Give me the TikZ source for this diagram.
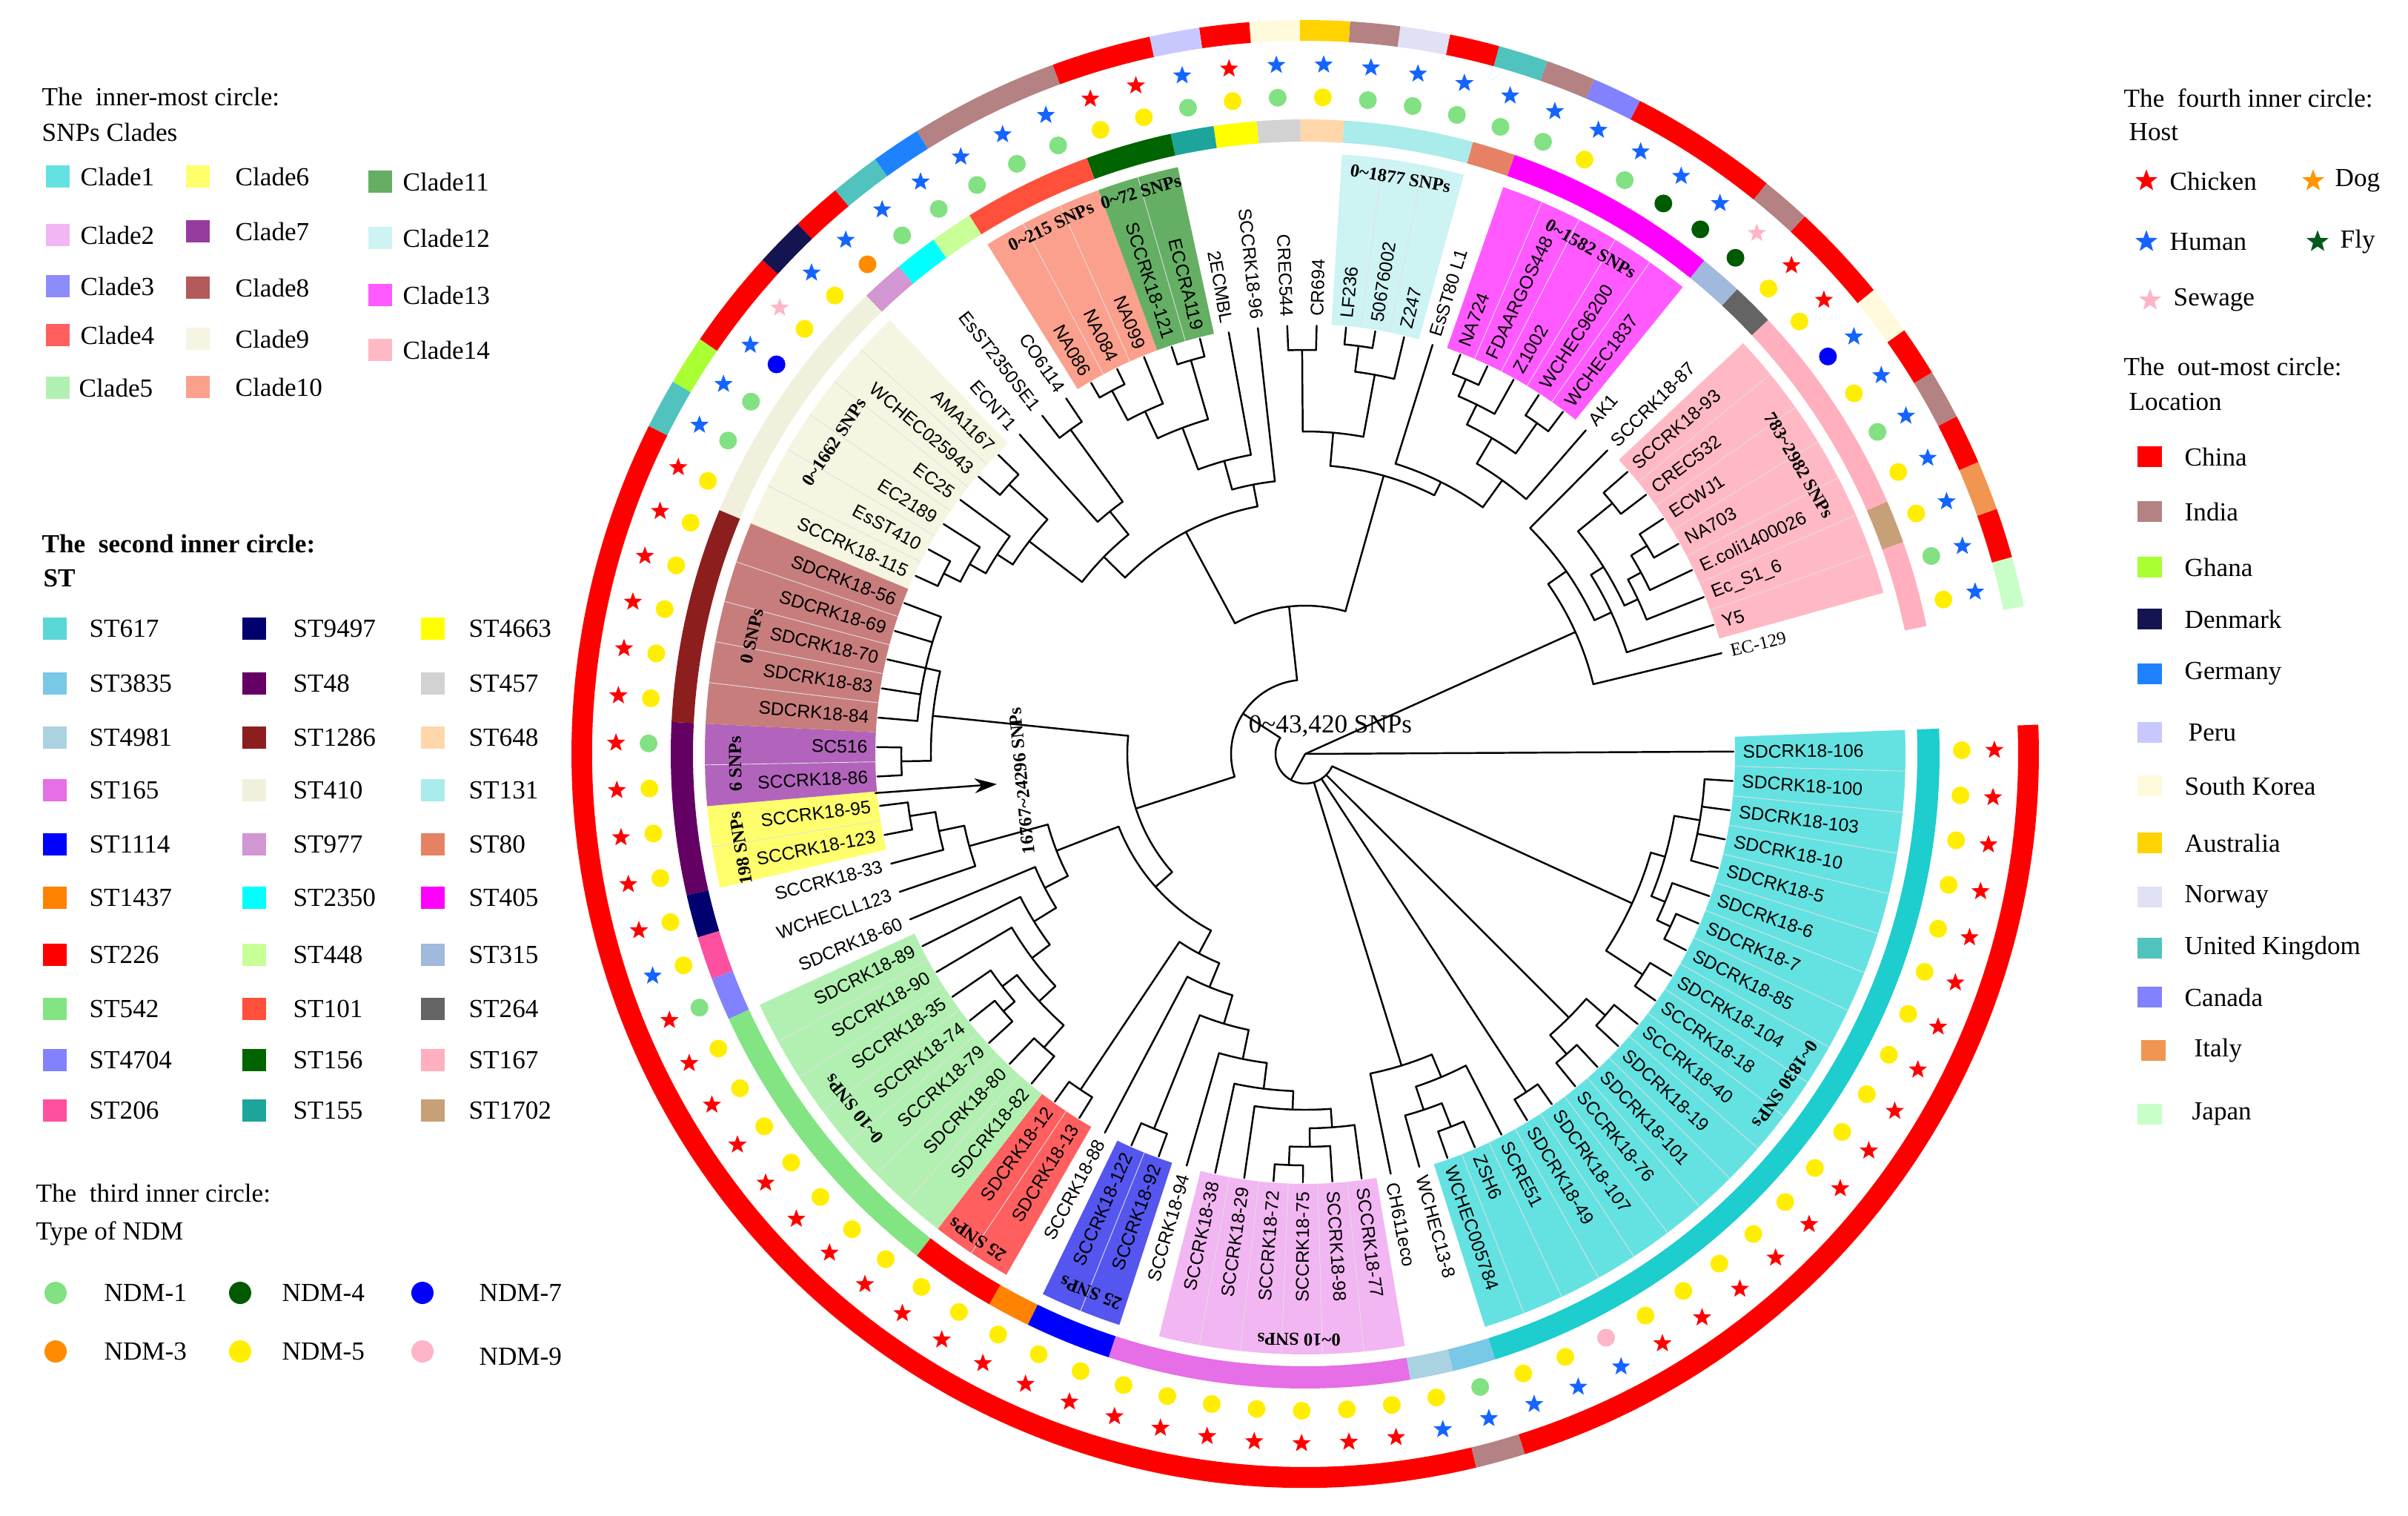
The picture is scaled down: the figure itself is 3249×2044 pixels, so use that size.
\documentclass[tikz,border=0pt]{standalone}
\usepackage{fontspec}
\setmainfont{Liberation Serif}
\setsansfont{Liberation Sans}
\usetikzlibrary{shapes.geometric,arrows.meta}
% clade colours
\definecolor{cl1}{RGB}{100,226,226}
\definecolor{cl2}{RGB}{242,182,242}
\definecolor{cl3w}{RGB}{85,85,240}
\definecolor{cl3}{RGB}{140,140,250}
\definecolor{cl4}{RGB}{255,95,95}
\definecolor{cl5}{RGB}{178,240,178}
\definecolor{cl6}{RGB}{255,255,110}
\definecolor{cl7w}{RGB}{178,100,188}
\definecolor{cl7}{RGB}{150,60,160}
\definecolor{cl8w}{RGB}{200,125,125}
\definecolor{cl8}{RGB}{180,90,90}
\definecolor{cl9}{RGB}{245,245,226}
\definecolor{cl10}{RGB}{250,160,140}
\definecolor{cl11}{RGB}{100,175,100}
\definecolor{cl12}{RGB}{205,243,243}
\definecolor{cl13}{RGB}{255,90,255}
\definecolor{cl14}{RGB}{255,185,196}
% ST colours
\definecolor{st617}{RGB}{90,215,215}
\definecolor{st617r}{RGB}{30,205,205}
\definecolor{st3835}{RGB}{120,200,230}
\definecolor{st4981}{RGB}{170,210,225}
\definecolor{st165}{RGB}{230,110,230}
\definecolor{st1114}{RGB}{0,0,255}
\definecolor{st1437}{RGB}{255,130,0}
\definecolor{st226}{RGB}{255,0,0}
\definecolor{st542}{RGB}{130,228,130}
\definecolor{st4704}{RGB}{130,130,255}
\definecolor{st206}{RGB}{255,80,160}
\definecolor{st9497}{RGB}{0,0,110}
\definecolor{st48}{RGB}{100,0,100}
\definecolor{st1286}{RGB}{140,30,30}
\definecolor{st410}{RGB}{240,240,220}
\definecolor{st977}{RGB}{210,150,210}
\definecolor{st2350}{RGB}{0,255,255}
\definecolor{st448}{RGB}{200,255,150}
\definecolor{st101}{RGB}{255,80,60}
\definecolor{st156}{RGB}{0,100,0}
\definecolor{st155}{RGB}{30,165,155}
\definecolor{st4663}{RGB}{255,255,0}
\definecolor{st457}{RGB}{210,210,210}
\definecolor{st648}{RGB}{255,215,170}
\definecolor{st131}{RGB}{170,235,235}
\definecolor{st80}{RGB}{230,130,100}
\definecolor{st405}{RGB}{255,0,255}
\definecolor{st315}{RGB}{160,185,220}
\definecolor{st264}{RGB}{100,100,100}
\definecolor{st167}{RGB}{255,175,190}
\definecolor{st1702}{RGB}{200,160,120}
% locations
\definecolor{lChina}{RGB}{255,0,0}
\definecolor{lIndia}{RGB}{180,130,130}
\definecolor{lGhana}{RGB}{170,255,50}
\definecolor{lDenmark}{RGB}{20,20,80}
\definecolor{lGermany}{RGB}{30,130,255}
\definecolor{lPeru}{RGB}{200,200,255}
\definecolor{lKorea}{RGB}{255,250,220}
\definecolor{lAustralia}{RGB}{255,210,0}
\definecolor{lNorway}{RGB}{225,225,245}
\definecolor{lUK}{RGB}{80,195,190}
\definecolor{lCanada}{RGB}{130,130,255}
\definecolor{lItaly}{RGB}{240,150,80}
\definecolor{lJapan}{RGB}{200,255,200}
% NDM
\definecolor{n1}{RGB}{130,225,130}
\definecolor{n3}{RGB}{255,140,0}
\definecolor{n4}{RGB}{0,90,0}
\definecolor{n5}{RGB}{255,238,0}
\definecolor{n7}{RGB}{0,0,255}
\definecolor{n9}{RGB}{255,180,200}
% hosts
\definecolor{hCh}{RGB}{255,0,0}
\definecolor{hDog}{RGB}{255,150,0}
\definecolor{hHu}{RGB}{20,100,255}
\definecolor{hFly}{RGB}{0,90,30}
\definecolor{hSew}{RGB}{255,180,200}

\newcommand\Aang[1]{13.6+(#1-1)*3.94}
\newcommand\Rad[3]{\draw[br] ({\Aang{#1}}:#2) -- ({\Aang{#1}}:#3);}
\newcommand\Arc[3]{\draw[br] ({\Aang{#2}}:#1) arc[start angle={\Aang{#2}}, end angle={\Aang{#3}}, radius=#1];}
\newcommand\Sec[5]{\fill[#5] ({\Aang{#3}-1.97}:#1) arc[start angle={\Aang{#3}-1.97}, end angle={\Aang{#4}+1.97}, radius=#1] -- ({\Aang{#4}+1.97}:#2) arc[start angle={\Aang{#4}+1.97}, end angle={\Aang{#3}-1.97}, radius=#2] -- cycle;}
\newcommand\Lf[2]{%
  \pgfmathsetmacro\lfang{13.6+(#1-1)*3.94}%
  \pgfmathtruncatemacro\lfflip{and(\lfang>90,\lfang<270)}%
  \ifnum\lfflip=1
    \node[lab,anchor=east,rotate=\lfang-180] (l#1) at (\lfang:590) {#2};%
  \else
    \node[lab,anchor=west,rotate=\lfang] (l#1) at (\lfang:590) {#2};%
  \fi}
\newcommand\Snp[4]{\node[snp,rotate=#2-90] (#1) at (#2:#3) {#4};}
\newcommand\Sw[6]{\fill[#1] ({#2-16},{#3-15}) rectangle ({#2+16},{#3+15}); \node[leg] (#4) at (#5,#3) {#6};}
\newcommand\Lw[6]{\fill[#1] (#2,{#3-14}) rectangle ({#2+33},{#3+14}); \node[leg] (#4) at (#5,#3) {#6};}

\begin{document}
\begin{tikzpicture}[x=0.01cm,y=0.01cm,
  br/.style={line width=0.7pt, black, line cap=round, line join=round},
  lab/.style={font=\sffamily\fontsize{7}{8}\selectfont, inner sep=0pt},
  snp/.style={font=\rmfamily\bfseries\fontsize{7}{8}\selectfont, inner sep=0pt},
  leg/.style={font=\rmfamily\fontsize{10}{12}\selectfont, anchor=west, inner sep=0pt},
  hstar/.style={star, star points=5, star point ratio=2.4, inner sep=0pt, minimum size=0.26cm, draw=none},
  lstar/.style={hstar, minimum size=0.31cm},
  sep/.style={line width=0.25pt, black!12}]

\useasboundingbox (-1761,-1027) rectangle (1488,1017);
\fill[white] (-1761,-1027) rectangle (1488,1017);

% ---------- clade wedges ----------
\foreach \a/\b/\c in {71/89/cl1, 63/68/cl2, 60/61/cl3w, 57/58/cl4, 50/56/cl5, 45/46/cl6, 43/44/cl7w, 38/42/cl8w, 32/37/cl9, 26/28/cl10, 24/25/cl11, 17/19/cl12, 11/15/cl13, 2/8/cl14}
  {\Sec{580}{810}{\a}{\b}{\c}}
\foreach \a/\b in {71/89, 63/68, 60/61, 57/58, 50/56, 45/46, 43/44, 38/42, 32/37, 26/28, 24/25, 17/19, 11/15, 2/8}
  {\pgfmathtruncatemacro\lm{\b-1}
   \foreach \i in {\a,...,\lm}{\draw[sep] ({\Aang{\i}+1.97}:580) -- ({\Aang{\i}+1.97}:810);}}

% ---------- ST ring ----------
\foreach \a/\b/\c in {1/2/st167, 3/3/st1702, 4/8/st167, 9/9/st264, 10/10/st315, 11/15/st405, 16/16/st80, 17/19/st131, 20/20/st648, 21/21/st457, 22/22/st4663, 23/23/st155, 24/25/st156, 26/28/st101, 29/29/st448, 30/30/st2350, 31/31/st977, 32/37/st410, 38/42/st1286, 43/46/st48, 47/47/st9497, 48/48/st206, 49/49/st4704, 50/56/st542, 57/58/st226, 59/59/st1437, 60/61/st1114, 62/68/st165, 69/69/st4981, 70/70/st3835, 71/89/st617r}
  {\Sec{826}{856}{\a}{\b}{\c}}

% ---------- location ring ----------
\foreach \a/\b/\c in {1/1/lJapan, 2/2/lChina, 3/3/lItaly, 4/4/lChina, 5/5/lIndia, 6/6/lChina, 7/7/lKorea, 8/9/lChina, 10/10/lIndia, 11/13/lChina, 14/14/lCanada, 15/15/lIndia, 16/16/lUK, 17/17/lChina, 18/18/lNorway, 19/19/lIndia, 20/20/lAustralia, 21/21/lKorea, 22/22/lChina, 23/23/lPeru, 24/25/lChina, 26/28/lIndia, 29/29/lGermany, 30/30/lUK, 31/31/lChina, 32/32/lDenmark, 33/34/lChina, 35/35/lGhana, 36/36/lUK, 37/69/lChina, 70/70/lIndia, 71/89/lChina}
  {\Sec{962}{990}{\a}{\b}{\c}}

% ---------- NDM dots ----------
\foreach \i in {1,3,4,6,8,9,14,20,22,24,25,32,33,37,38,39,40,41,42,44,45,46,47,48,50,51,52,53,54,55,56,57,58,59,60,61,62,63,64,65,66,67,68,69,71,72,74,75,76,77,78,79,80,81,82,83,84,85,86,87,88,89}{\fill[n5] ({\Aang{\i}}:886) circle[radius=12];}
\foreach \i in {2,5,13,15,16,17,18,19,21,23,26,27,28,29,30,35,36,43,49,70}{\fill[n1] ({\Aang{\i}}:886) circle[radius=12];}
\foreach \i in {7,34}{\fill[n7] ({\Aang{\i}}:886) circle[radius=12];}
\foreach \i in {10,11,12}{\fill[n4] ({\Aang{\i}}:886) circle[radius=12];}
\foreach \i in {31}{\fill[n3] ({\Aang{\i}}:886) circle[radius=12];}
\foreach \i in {73}{\fill[n9] ({\Aang{\i}}:886) circle[radius=12];}

% ---------- host stars ----------
\foreach \i in {1,2,3,4,5,6,7,11,12,13,14,15,16,17,18,19,20,21,23,26,27,28,29,30,31,32,34,35,36,48,69,70,71,72,73}{\node[hstar,fill=hHu] (hb\i) at ({\Aang{\i}}:930) {};}
\foreach \i in {8,9,22,24,25,37,38,39,40,41,42,43,44,45,46,47,49,50,51,52,53,54,55,56,57,58,59,60,61,62,63,64,65,66,67,68,74,75,76,77,78,79,80,81,82,83,84,85,86,87,88,89}{\node[hstar,fill=hCh] (hr\i) at ({\Aang{\i}}:930) {};}
\foreach \i in {10,33}{\node[hstar,fill=hSew] (hp\i) at ({\Aang{\i}}:930) {};}

% ---------- tree ----------
% group VII
\Arc{535}{7}{8}\Rad{7}{535}{578}\Rad{8}{535}{578}
\Arc{540}{5}{6}\Rad{5}{540}{578}\Rad{6}{540}{578}
\Arc{515}{4}{5.5}\Rad{4}{515}{578}\Rad{5.5}{515}{540}
\Arc{495}{3}{4.75}\Rad{3}{495}{578}\Rad{4.75}{495}{515}
\Arc{475}{3.875}{7.5}\Rad{3.875}{475}{495}\Rad{7.5}{475}{535}
\Arc{455}{2}{5.6875}\Rad{2}{455}{578}\Rad{5.6875}{455}{475}
\Arc{430}{3.84375}{9}\Rad{3.84375}{430}{455}\Rad{9}{430}{578}
\Arc{400}{1}{6.421875}\Rad{1}{400}{578}\Rad{6.421875}{400}{430}
% group VI
\Arc{550}{14}{15}\Rad{14}{550}{578}\Rad{15}{550}{578}
\Arc{525}{13}{14.5}\Rad{13}{525}{578}\Rad{14.5}{525}{550}
\Arc{545}{11}{12}\Rad{11}{545}{578}\Rad{12}{545}{578}
\Arc{495}{11.5}{13.75}\Rad{11.5}{495}{545}\Rad{13.75}{495}{525}
\Arc{455}{10}{12.625}\Rad{10}{455}{578}\Rad{12.625}{455}{495}
\Arc{410}{11.3125}{16}\Rad{11.3125}{410}{455}\Rad{16}{410}{578}
\Arc{555}{18}{19}\Rad{18}{555}{578}\Rad{19}{555}{578}
\Arc{520}{17}{18.5}\Rad{17}{520}{578}\Rad{18.5}{520}{555}
\Arc{545}{20}{21}\Rad{20}{545}{578}\Rad{21}{545}{578}
\Arc{435}{17.75}{20.5}\Rad{17.75}{435}{520}\Rad{20.5}{435}{545}
\Arc{390}{13.65625}{19.125}\Rad{13.65625}{390}{410}\Rad{19.125}{390}{435}
% group V
\Arc{555}{27}{28}\Rad{27}{555}{578}\Rad{28}{555}{578}
\Arc{510}{26}{27.5}\Rad{26}{510}{578}\Rad{27.5}{510}{555}
\Arc{553}{24}{25}\Rad{24}{553}{578}\Rad{25}{553}{578}
\Arc{470}{24.5}{26.75}\Rad{24.5}{470}{553}\Rad{26.75}{470}{510}
\Arc{410}{23}{25.625}\Rad{23}{410}{578}\Rad{25.625}{410}{470}
\Arc{370}{22}{24.3125}\Rad{22}{370}{578}\Rad{24.3125}{370}{410}
% group IV
\Arc{540}{29}{30}\Rad{29}{540}{578}\Rad{30}{540}{578}
\Arc{420}{29.5}{31}\Rad{29.5}{420}{540}\Rad{31}{420}{578}
\Arc{540}{32}{33}\Rad{32}{540}{578}\Rad{33}{540}{578}
\Arc{545}{36}{37}\Rad{36}{545}{578}\Rad{37}{545}{578}
\Arc{520}{35}{36.5}\Rad{35}{520}{578}\Rad{36.5}{520}{545}
\Arc{495}{34}{35.75}\Rad{34}{495}{578}\Rad{35.75}{495}{520}
\Arc{470}{32.5}{34.875}\Rad{32.5}{470}{540}\Rad{34.875}{470}{495}
\Arc{380}{30.25}{33.6875}\Rad{30.25}{380}{420}\Rad{33.6875}{380}{470}
\Arc{340}{23.15625}{31.96875}\Rad{23.15625}{340}{370}\Rad{31.96875}{340}{380}
\Arc{200}{16.390625}{27.5625}\Rad{16.390625}{200}{390}\Rad{27.5625}{200}{340}
% group III
\Arc{525}{38}{42}\foreach \i in {38,...,42}{\Rad{\i}{525}{578}}
\Arc{545}{43}{44}\Rad{43}{545}{578}\Rad{44}{545}{578}
\Arc{505}{40}{43.5}\Rad{40}{505}{525}\Rad{43.5}{505}{545}
% group II
\Arc{540}{45}{46}\Rad{45}{540}{578}\Rad{46}{540}{578}
\Arc{505}{45.5}{47}\Rad{45.5}{505}{540}\Rad{47}{505}{578}
\Arc{470}{46.25}{48}\Rad{46.25}{470}{505}\Rad{48}{470}{578}
\Arc{535}{53}{54}\Rad{53}{535}{578}\Rad{54}{535}{578}
\Arc{515}{52}{53.5}\Rad{52}{515}{578}\Rad{53.5}{515}{535}
\Arc{530}{55}{56}\Rad{55}{530}{578}\Rad{56}{530}{578}
\Arc{490}{52.75}{55.5}\Rad{52.75}{490}{515}\Rad{55.5}{490}{530}
\Arc{460}{51}{54.125}\Rad{51}{460}{578}\Rad{54.125}{460}{490}
\Arc{430}{50}{52.5625}\Rad{50}{430}{578}\Rad{52.5625}{430}{460}
\Arc{395}{49}{51.28125}\Rad{49}{395}{578}\Rad{51.28125}{395}{430}
\Arc{360}{47.125}{50.140625}\Rad{47.125}{360}{470}\Rad{50.140625}{360}{395}
\Arc{545}{57}{58}\Rad{57}{545}{578}\Rad{58}{545}{578}
\Arc{545}{60}{61}\Rad{60}{545}{578}\Rad{61}{545}{578}
\Arc{555}{65}{66}\Rad{65}{555}{578}\Rad{66}{555}{578}
\Arc{530}{65.5}{67}\Rad{65.5}{530}{555}\Rad{67}{530}{578}
\Arc{505}{66.25}{68}\Rad{66.25}{505}{530}\Rad{68}{505}{578}
\Arc{480}{64}{67.125}\Rad{64}{480}{578}\Rad{67.125}{480}{505}
\Arc{455}{63}{65.5625}\Rad{63}{455}{578}\Rad{65.5625}{455}{480}
\Arc{420}{62}{64.28125}\Rad{62}{420}{578}\Rad{64.28125}{420}{455}
\Arc{380}{60.5}{63.140625}\Rad{60.5}{380}{545}\Rad{63.140625}{380}{420}
\Arc{340}{59}{61.8203}\Rad{59}{340}{578}\Rad{61.8203}{340}{380}
\Arc{305}{57.5}{60.41}\Rad{57.5}{305}{545}\Rad{60.41}{305}{340}
\Arc{270}{48.6328}{58.955}\Rad{48.6328}{270}{360}\Rad{58.955}{270}{305}
\Arc{240}{41.75}{53.794}\Rad{41.75}{240}{505}\Rad{53.794}{240}{270}
\Arc{100}{21.9766}{47.772}\Rad{21.9766}{100}{200}\Rad{47.772}{100}{240}
% group I
\Arc{540}{71}{72}\Rad{71}{540}{578}\Rad{72}{540}{578}
\Arc{506}{70}{71.5}\Rad{70}{506}{578}\Rad{71.5}{506}{540}
\Arc{473}{70.75}{73}\Rad{70.75}{473}{506}\Rad{73}{473}{578}
\Arc{440}{69}{71.875}\Rad{69}{440}{578}\Rad{71.875}{440}{473}
\Arc{545}{74}{75}\Rad{74}{545}{578}\Rad{75}{545}{578}
\Arc{537}{76}{77}\Rad{76}{537}{578}\Rad{77}{537}{578}
\Arc{537}{78}{79}\Rad{78}{537}{578}\Rad{79}{537}{578}
\Arc{503}{76.5}{78.5}\Rad{76.5}{503}{537}\Rad{78.5}{503}{537}
\Arc{544}{80}{81}\Rad{80}{544}{578}\Rad{81}{544}{578}
\Arc{545}{82}{83}\Rad{82}{545}{578}\Rad{83}{545}{578}
\Arc{525}{82.5}{84}\Rad{82.5}{525}{545}\Rad{84}{525}{578}
\Arc{540}{85}{88}\foreach \i in {85,...,88}{\Rad{\i}{540}{578}}
\Arc{505}{83.25}{86.5}\Rad{83.25}{505}{525}\Rad{86.5}{505}{540}
\Arc{485}{80.5}{84.875}\Rad{80.5}{485}{544}\Rad{84.875}{485}{505}
% centre
\Arc{40}{34.874}{82.6875}
\Rad{34.874}{40}{100}\Rad{70.4375}{40}{440}\Rad{74.5}{40}{545}\Rad{77.5}{40}{503}\Rad{82.6875}{40}{485}
\Rad{3.7109}{0}{400}\Rad{58.78}{0}{40}\Rad{89}{0}{578}

% ---------- leaf labels ----------
\Lf{1}{\rmfamily EC-129}
\Lf{2}{Y5}
\Lf{3}{Ec\_S1\_6}
\Lf{4}{E.coli1400026}
\Lf{5}{NA703}
\Lf{6}{ECWJ1}
\Lf{7}{CREC532}
\Lf{8}{SCCRK18-93}
\Lf{9}{SCCRK18-87}
\Lf{10}{AK1}
\Lf{11}{WCHEC1837}
\Lf{12}{WCHEC96200}
\Lf{13}{Z1002}
\Lf{14}{FDAARGOS448}
\Lf{15}{NA724}
\Lf{16}{EsST80 L1}
\Lf{17}{Z247}
\Lf{18}{50676002}
\Lf{19}{LF236}
\Lf{20}{CR694}
\Lf{21}{CREC544}
\Lf{22}{SCCRK18-96}
\Lf{23}{2ECMBL}
\Lf{24}{ECCRA119}
\Lf{25}{SCCRK18-121}
\Lf{26}{NA099}
\Lf{27}{NA084}
\Lf{28}{NA086}
\Lf{29}{CO6114}
\Lf{30}{EsST2350SE1}
\Lf{31}{ECNT1}
\Lf{32}{AMA1167}
\Lf{33}{WCHEC025943}
\Lf{34}{EC25}
\Lf{35}{EC2189}
\Lf{36}{EsST410}
\Lf{37}{SCCRK18-115}
\Lf{38}{SDCRK18-56}
\Lf{39}{SDCRK18-69}
\Lf{40}{SDCRK18-70}
\Lf{41}{SDCRK18-83}
\Lf{42}{SDCRK18-84}
\Lf{43}{SC516}
\Lf{44}{SCCRK18-86}
\Lf{45}{SCCRK18-95}
\Lf{46}{SCCRK18-123}
\Lf{47}{SCCRK18-33}
\Lf{48}{WCHECLL123}
\Lf{49}{SDCRK18-60}
\Lf{50}{SDCRK18-89}
\Lf{51}{SCCRK18-90}
\Lf{52}{SCCRK18-35}
\Lf{53}{SCCRK18-74}
\Lf{54}{SCCRK18-79}
\Lf{55}{SDCRK18-80}
\Lf{56}{SDCRK18-82}
\Lf{57}{SDCRK18-12}
\Lf{58}{SDCRK18-13}
\Lf{59}{SCCRK18-88}
\Lf{60}{SCCRK18-122}
\Lf{61}{SCCRK18-92}
\Lf{62}{SCCRK18-94}
\Lf{63}{SCCRK18-38}
\Lf{64}{SCCRK18-29}
\Lf{65}{SCCRK18-72}
\Lf{66}{SCCRK18-75}
\Lf{67}{SCCRK18-98}
\Lf{68}{SCCRK18-77}
\Lf{69}{CH611eco}
\Lf{70}{WCHEC13-8}
\Lf{71}{WCHEC005784}
\Lf{72}{ZSH6}
\Lf{73}{SCRE51}
\Lf{74}{SDCRK18-49}
\Lf{75}{SDCRK18-107}
\Lf{76}{SCCRK18-76}
\Lf{77}{SDCRK18-101}
\Lf{78}{SDCRK18-19}
\Lf{79}{SCCRK18-40}
\Lf{80}{SCCRK18-18}
\Lf{81}{SDCRK18-104}
\Lf{82}{SDCRK18-85}
\Lf{83}{SDCRK18-7}
\Lf{84}{SDCRK18-6}
\Lf{85}{SDCRK18-5}
\Lf{86}{SDCRK18-10}
\Lf{87}{SDCRK18-103}
\Lf{88}{SDCRK18-100}
\Lf{89}{SDCRK18-106}

% ---------- SNP labels ----------
\Snp{s14}{30.3}{772}{783\textasciitilde2982 SNPs}
\Snp{s13}{60.5}{783}{0\textasciitilde1582 SNPs}
\Snp{s12}{80.6}{787}{0\textasciitilde1877 SNPs}
\Snp{s11}{106.3}{790}{0\textasciitilde72 SNPs}
\Snp{s10}{115.7}{790}{0\textasciitilde215 SNPs}
\Snp{s9}{146.5}{762}{0\textasciitilde1662 SNPs}
\Snp{s8}{168}{763}{0 SNPs}
\Snp{s7}{181}{769}{6 SNPs}
\Snp{s6}{189.5}{772}{198 SNPs}
\Snp{s5}{218.2}{774}{0\textasciitilde10 SNPs}
\Snp{s4}{236}{790}{25 SNPs}
\Snp{s3}{248.3}{782}{25 SNPs}
\Snp{s2}{269.4}{790}{0\textasciitilde10 SNPs}
\Snp{s1}{325.5}{786}{0\textasciitilde1830 SNPs}
\node[snp,rotate=95.4] (smid) at (185.4:384) {16767\textasciitilde24296 SNPs};
\coordinate (arrS) at (185.2:583);
\coordinate (arrE) at (185.6:418);
\draw[line width=0.7pt,-{Stealth[length=0.3cm,width=0.2cm]}] (arrS) -- (arrE);
\node[font=\rmfamily\fontsize{10}{12}\selectfont, inner sep=0pt] (total) at (34,38) {0\textasciitilde43,420 SNPs};

% ---------- legends ----------
\begin{scope}[shift={(-1761,1017)},yscale=-1]
\node[leg] (t1a) at (56,131) {The\ \ inner-most circle:};
\node[leg] (t1b) at (56,178) {SNPs Clades};
\Sw{cl1}{78}{238}{c1}{108}{Clade1}
\Sw{cl2}{78}{317}{c2}{108}{Clade2}
\Sw{cl3}{78}{386}{c3}{108}{Clade3}
\Sw{cl4}{78}{452}{c4}{108}{Clade4}
\Sw{cl5}{78}{523}{c5}{106}{Clade5}
\Sw{cl6}{267}{238}{c6}{317}{Clade6}
\Sw{cl7}{267}{312}{c7}{317}{Clade7}
\Sw{cl8}{267}{388}{c8}{317}{Clade8}
\Sw{cl9}{267}{457}{c9}{317}{Clade9}
\Sw{cl10}{267}{522}{c10}{317}{Clade10}
\Sw{cl11}{513}{245}{c11}{543}{Clade11}
\Sw{cl12}{513}{321}{c12}{543}{Clade12}
\Sw{cl13}{513}{398}{c13}{543}{Clade13}
\Sw{cl14}{513}{472}{c14}{543}{Clade14}

\node[leg,font=\rmfamily\bfseries\fontsize{10}{12}\selectfont] (t2a) at (56,734) {The\ \ second inner circle:};
\node[leg,font=\rmfamily\bfseries\fontsize{10}{12}\selectfont] (t2b) at (58,780) {ST};
\Sw{st617}{74}{848}{e1}{120}{ST617}
\Sw{st3835}{74}{922}{e2}{120}{ST3835}
\Sw{st4981}{74}{995}{e3}{120}{ST4981}
\Sw{st165}{74}{1066}{e4}{120}{ST165}
\Sw{st1114}{74}{1139}{e5}{120}{ST1114}
\Sw{st1437}{74}{1211}{e6}{120}{ST1437}
\Sw{st226}{74}{1288}{e7}{120}{ST226}
\Sw{st542}{74}{1361}{e8}{120}{ST542}
\Sw{st4704}{74}{1430}{e9}{120}{ST4704}
\Sw{st206}{74}{1498}{e10}{120}{ST206}
\Sw{st9497}{343}{848}{f1}{395}{ST9497}
\Sw{st48}{343}{922}{f2}{395}{ST48}
\Sw{st1286}{343}{995}{f3}{395}{ST1286}
\Sw{st410}{343}{1066}{f4}{395}{ST410}
\Sw{st977}{343}{1139}{f5}{395}{ST977}
\Sw{st2350}{343}{1211}{f6}{395}{ST2350}
\Sw{st448}{343}{1288}{f7}{395}{ST448}
\Sw{st101}{343}{1361}{f8}{395}{ST101}
\Sw{st156}{343}{1430}{f9}{395}{ST156}
\Sw{st155}{343}{1498}{f10}{395}{ST155}
\Sw{st4663}{584}{848}{g1}{632}{ST4663}
\Sw{st457}{584}{922}{g2}{632}{ST457}
\Sw{st648}{584}{995}{g3}{632}{ST648}
\Sw{st131}{584}{1066}{g4}{632}{ST131}
\Sw{st80}{584}{1139}{g5}{632}{ST80}
\Sw{st405}{584}{1211}{g6}{632}{ST405}
\Sw{st315}{584}{1288}{g7}{632}{ST315}
\Sw{st264}{584}{1361}{g8}{632}{ST264}
\Sw{st167}{584}{1430}{g9}{632}{ST167}
\Sw{st1702}{584}{1498}{g10}{632}{ST1702}

\node[leg] (t3a) at (48,1610) {The\ \ third inner circle:};
\node[leg] (t3b) at (48,1664) {Type of NDM};
\fill[n1] (75,1744) circle[radius=15]; \node[leg] (d1) at (140,1744) {NDM-1};
\fill[n4] (324,1744) circle[radius=15]; \node[leg] (d4) at (380,1744) {NDM-4};
\fill[n7] (570,1744) circle[radius=15]; \node[leg] (d7) at (646,1744) {NDM-7};
\fill[n3] (75,1823) circle[radius=15]; \node[leg] (d3) at (140,1823) {NDM-3};
\fill[n5] (324,1823) circle[radius=15]; \node[leg] (d5) at (380,1823) {NDM-5};
\fill[n9] (570,1823) circle[radius=15]; \node[leg] (d9) at (646,1830) {NDM-9};

\node[leg] (t4a) at (2865,132) {The\ \ fourth inner circle:};
\node[leg] (t4b) at (2872,178) {Host};
\node[lstar,fill=hCh] (k1) at (2896,244) {}; \node[leg] (k1t) at (2927,244) {Chicken};
\node[lstar,fill=hDog] (k2) at (3121,244) {}; \node[leg] (k2t) at (3150,244) {Dog};
\node[lstar,fill=hHu] (k3) at (2896,326) {}; \node[leg] (k3t) at (2927,326) {Human};
\node[lstar,fill=hFly] (k4) at (3127,326) {}; \node[leg] (k4t) at (3157,326) {Fly};
\node[lstar,fill=hSew] (k5) at (2901,405) {}; \node[leg] (k5t) at (2932,405) {Sewage};

\node[leg] (t5a) at (2865,495) {The\ \ out-most circle:};
\node[leg] (t5b) at (2872,542) {Location};
\Lw{lChina}{2884}{616}{m1}{2947}{China}
\Lw{lIndia}{2884}{690}{m2}{2947}{India}
\Lw{lGhana}{2884}{765}{m3}{2947}{Ghana}
\Lw{lDenmark}{2884}{835}{m4}{2947}{Denmark}
\Lw{lGermany}{2884}{909}{m5}{2947}{Germany}
\Lw{lPeru}{2884}{988}{m6}{2952}{Peru}
\Lw{lKorea}{2884}{1060}{m7}{2947}{South Korea}
\Lw{lAustralia}{2884}{1137}{m8}{2947}{Australia}
\Lw{lNorway}{2884}{1210}{m9}{2947}{Norway}
\Lw{lUK}{2884}{1279}{m10}{2947}{United Kingdom}
\Lw{lCanada}{2884}{1345}{m11}{2947}{Canada}
\Lw{lItaly}{2889}{1417}{m12}{2960}{Italy}
\Lw{lJapan}{2884}{1503}{m13}{2957}{Japan}
\end{scope}
\end{tikzpicture}
\end{document}
